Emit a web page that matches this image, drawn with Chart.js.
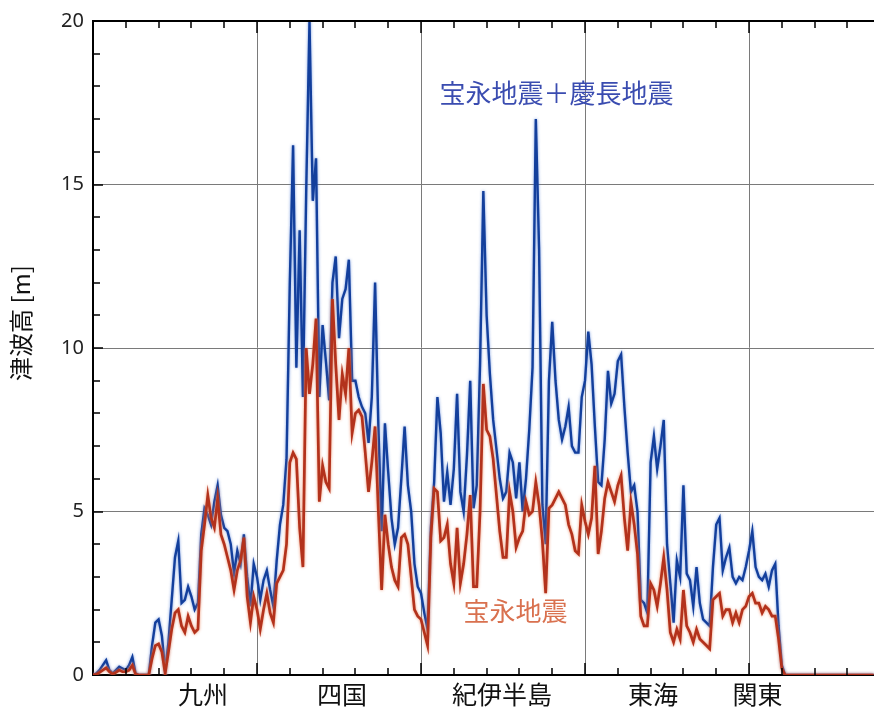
<!DOCTYPE html>
<html>
<head>
<meta charset="utf-8">
<script src="https://cdn.jsdelivr.net/npm/chart.js@4.4.1/dist/chart.umd.min.js"></script>
<style>
  html, body { margin: 0; padding: 0; background: #fff; }
  #wrap { width: 874px; height: 709px; position: relative; }
</style>
</head>
<body>
<div id="wrap"><canvas id="c"></canvas></div>
<script>
// Tsunami height along the coast (sample index = position along the shore, west to east)
const hoeiPlusKeicho = [
  0,0.05,0.15,0.3,0.45,0.15,0.05,0.15,0.25,0.2,
  0.15,0.3,0.55,0.05,0,0,0,0,0.9,1.6,
  1.7,1.2,0.1,1.0,2.3,3.6,4.1,2.2,2.3,2.7,
  2.4,2.0,2.2,4.3,5.1,4.9,4.6,5.3,5.8,4.9,
  4.5,4.4,4.0,3.1,3.8,3.4,4.3,3.0,2.1,3.4,
  3.0,2.3,2.9,3.2,2.6,2.1,3.5,4.6,5.2,6.6,
  12.0,16.2,9.4,13.6,8.5,14.8,20.0,14.5,15.8,8.5,
  10.7,9.6,8.4,12.0,12.8,10.3,11.5,11.8,12.7,9.0,
  9.0,8.5,8.2,8.0,7.1,8.5,12.0,7.6,4.4,7.7,
  6.2,4.8,4.0,4.5,6.0,7.6,5.8,5.0,3.4,2.7,
  2.5,1.9,1.4,4.5,5.9,8.5,7.4,5.3,6.2,5.2,
  6.3,8.6,5.6,5.0,6.7,9.0,5.1,5.8,9.5,14.8,
  11.0,9.2,7.8,6.9,6.0,5.4,5.6,6.8,6.5,5.4,
  6.5,5.0,6.0,7.5,9.4,17.0,13.0,5.2,4.0,9.0,
  10.8,9.0,7.8,7.2,7.6,8.2,7.0,6.8,6.8,8.5,
  9.0,10.5,9.5,7.6,5.9,5.8,7.2,9.3,8.3,8.6,
  9.6,9.8,8.2,6.8,5.6,5.8,5.0,2.3,2.2,1.9,
  6.5,7.3,6.3,7.0,7.8,4.0,2.8,1.6,3.5,3.0,
  5.8,3.1,2.9,2.1,3.3,2.2,1.7,1.6,1.5,3.3,
  4.6,4.8,3.2,3.6,3.9,3.0,2.8,3.0,2.9,3.3,
  3.8,4.4,3.3,3.0,2.9,3.1,2.7,3.2,3.4,1.5,
  0.3,0,0,0,0,0,0,0,0,0,
  0,0,0,0,0,0,0,0,0,0,
  0,0,0,0,0,0,0,0,0
];

const hoei = [
  0,0.02,0.08,0.15,0.22,0.1,0.03,0.08,0.15,0.1,
  0.1,0.15,0.3,0.02,0,0,0,0,0.5,0.9,
  0.95,0.7,0.05,0.7,1.4,1.9,2.0,1.5,1.3,1.8,
  1.5,1.3,1.4,3.8,4.6,5.5,4.8,4.5,5.4,4.3,
  4.0,3.6,3.2,2.6,3.2,3.5,4.2,2.4,1.6,2.4,
  2.0,1.4,2.0,2.5,1.9,1.6,2.8,3.0,3.2,4.0,
  6.5,6.8,6.6,4.5,3.3,10.0,8.6,9.5,10.9,5.3,
  6.4,5.9,5.7,11.5,9.5,7.8,9.2,8.6,10.0,7.4,
  8.0,8.1,7.9,6.8,5.6,6.5,7.6,5.0,2.6,4.9,
  4.0,3.3,2.9,2.7,4.2,4.3,4.0,3.0,2.0,1.8,
  1.7,1.3,0.9,4.2,5.7,5.6,4.1,4.2,4.6,3.4,
  2.8,4.5,2.8,3.4,4.3,5.5,2.7,2.7,5.0,8.9,
  7.5,7.3,6.6,5.5,4.4,3.6,3.6,5.6,5.0,3.9,
  4.2,4.4,5.3,4.9,5.0,5.9,5.2,4.1,2.5,5.1,
  5.2,5.4,5.6,5.4,5.2,4.6,4.3,3.8,3.7,5.2,
  4.7,4.3,4.8,6.4,3.7,4.4,5.4,5.9,5.6,5.3,
  5.8,6.1,4.8,3.8,5.3,4.6,3.7,1.8,1.5,1.5,
  2.8,2.6,2.1,2.8,3.6,2.6,1.3,1.0,1.4,1.1,
  2.6,1.5,1.3,1.0,1.4,1.1,1.0,0.9,0.8,2.3,
  2.4,2.5,1.8,2.0,2.0,1.6,1.9,1.6,2.0,2.1,
  2.4,2.5,2.2,2.2,1.9,2.1,2.0,1.8,1.8,1.1,
  0.2,0,0,0,0,0,0,0,0,0,
  0,0,0,0,0,0,0,0,0,0,
  0,0,0,0,0,0,0,0,0
];

// Coastal regions and where their names sit along the shore axis
const regionNames = ['九州', '四国', '紀伊半島', '東海', '関東'];
const regionCentres = [33.5, 75.9, 124.7, 170.7, 202.6];

// Y-axis ticks (metres)
const heightTicks = [0, 5, 10, 15, 20];

const seriesNames = ['宝永地震', '宝永地震＋慶長地震'];

const toPoints = arr => arr.map((v, i) => ({ x: i, y: v }));
const X_MAX = 238.1;
const FONT_JP = '"Noto Sans CJK JP", "Noto Sans", sans-serif';

// soft glow around each line
const glowPlugin = {
  id: 'glow',
  beforeDatasetDraw(chart, args) {
    const ctx = chart.ctx;
    ctx.save();
    ctx.shadowBlur = 3;
    ctx.shadowColor = args.index === 0 ? 'rgba(235,130,90,0.9)' : 'rgba(60,110,210,0.7)';
  },
  afterDatasetDraw(chart) {
    chart.ctx.restore();
  }
};

const framePlugin = {
  id: 'frame',
  afterDraw(chart) {
    const { ctx, chartArea: a, scales: { x, y } } = chart;
    ctx.save();
    ctx.fillStyle = '#000';
    // top edge of the frame
    ctx.fillRect(a.left - 1, a.top - 1, a.right - a.left + 1, 2);

    // inward tick marks on left, top and bottom edges
    for (let v = 1; v < 20; v++) {
      const py = Math.round(y.getPixelForValue(v));
      const len = v % 5 === 0 ? 10 : 7;
      ctx.fillRect(a.left, py - 0.75, len, 1.5);
    }
    for (let v = 10; v < X_MAX; v += 10) {
      const px = Math.round(x.getPixelForValue(v));
      const len = v % 50 === 0 ? 12 : 7;
      ctx.fillRect(px - 0.75, a.top, 1.5, len);
      ctx.fillRect(px - 0.75, a.bottom - len, 1.5, len);
    }

    // region names under the axis
    ctx.fillStyle = '#111';
    ctx.font = '25px ' + FONT_JP;
    ctx.textAlign = 'center';
    ctx.textBaseline = 'middle';
    regionNames.forEach((name, k) => {
      ctx.fillText(name, x.getPixelForValue(regionCentres[k]), 694);
    });

    // y-axis title
    ctx.save();
    ctx.translate(21, 323);
    ctx.rotate(-Math.PI / 2);
    ctx.font = '24px ' + FONT_JP;
    ctx.fillStyle = '#111';
    ctx.fillText('津波高 [m]', 0, 0);
    ctx.restore();

    // series labels
    ctx.font = '26px ' + FONT_JP;
    ctx.fillStyle = '#3a4cb0';
    ctx.fillText(seriesNames[1], x.getPixelForValue(141.3), y.getPixelForValue(17.78));
    ctx.fillStyle = '#d9714f';
    ctx.fillText(seriesNames[0], x.getPixelForValue(128.8), y.getPixelForValue(1.95));
    ctx.restore();
  }
};

new Chart(document.getElementById('c'), {
  type: 'line',
  data: {
    datasets: [
      {
        label: seriesNames[0],
        data: toPoints(hoei),
        borderColor: '#b3321c',
        borderWidth: 2.7,
        pointRadius: 0,
        tension: 0,
        fill: false
      },
      {
        label: seriesNames[1],
        data: toPoints(hoeiPlusKeicho),
        borderColor: '#133f9c',
        borderWidth: 2.4,
        pointRadius: 0,
        tension: 0,
        fill: false
      }
    ]
  },
  options: {
    responsive: true,
    maintainAspectRatio: false,
    animation: false,
    events: [],
    layout: { padding: { top: 18, right: 0, bottom: 0, left: 0 } },
    plugins: { legend: { display: false }, tooltip: { enabled: false } },
    scales: {
      x: {
        type: 'linear',
        min: 0,
        max: X_MAX,
        ticks: { display: false, stepSize: 50 },
        grid: {
          drawTicks: false,
          color: c => (c.tick && c.tick.value > 0 && c.tick.value % 50 === 0 && c.tick.value < X_MAX) ? '#7a7a7a' : 'rgba(0,0,0,0)',
          lineWidth: 1
        },
        border: { display: true, color: '#000', width: 2 },
        afterFit: s => { s.height = 34; }
      },
      y: {
        min: 0,
        max: 20,
        afterBuildTicks: s => { s.ticks = heightTicks.map(v => ({ value: v })); },
        ticks: {
          padding: 9,
          color: '#222',
          font: { size: 20, family: '"Noto Sans", sans-serif' }
        },
        grid: {
          drawTicks: false,
          color: c => (c.tick && c.tick.value > 0 && c.tick.value < 20) ? '#7a7a7a' : 'rgba(0,0,0,0)',
          lineWidth: 1
        },
        border: { display: true, color: '#000', width: 2 },
        afterFit: s => { s.width = 93; }
      }
    }
  },
  plugins: [glowPlugin, framePlugin]
});
</script>
</body>
</html>
